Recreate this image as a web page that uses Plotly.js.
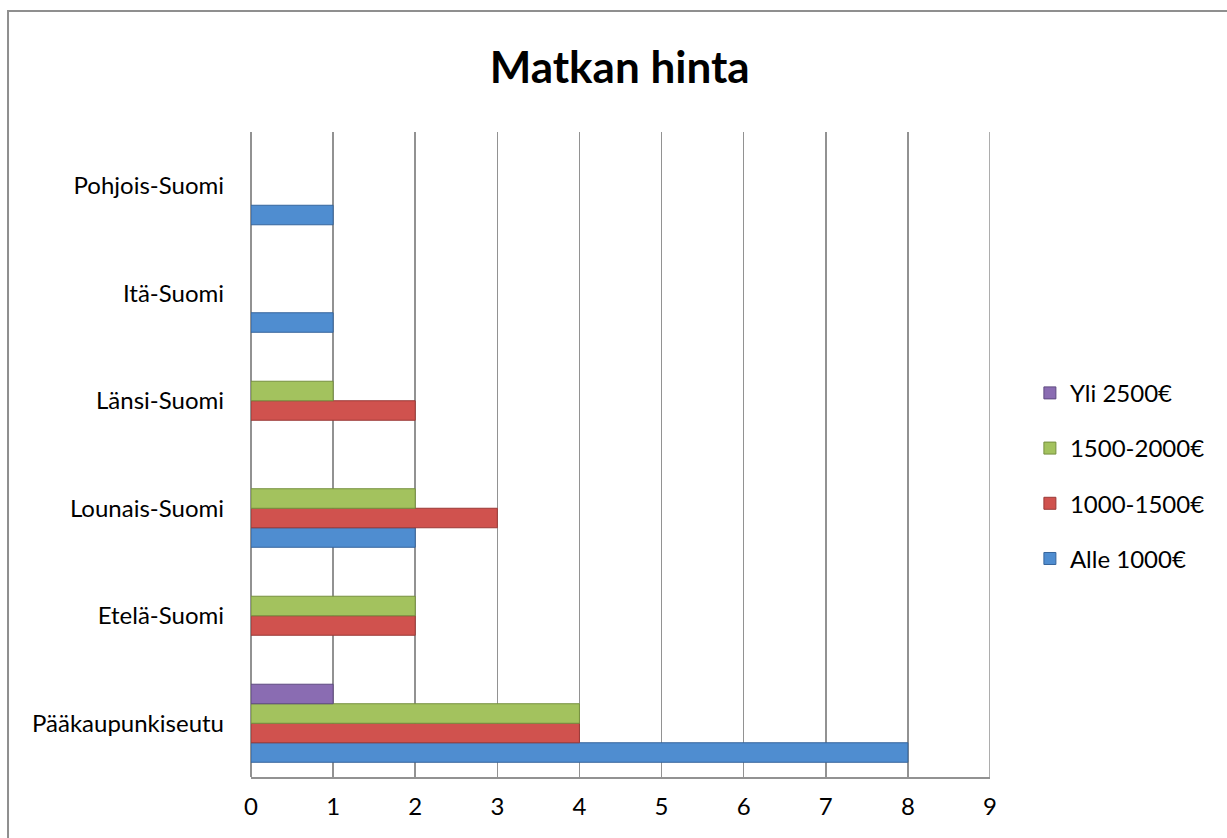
<!DOCTYPE html>
<html>
<head>
<meta charset="utf-8">
<script src="https://cdn.plot.ly/plotly-3.0.1.min.js"></script>
<style>
  html, body { margin: 0; padding: 0; background: #ffffff; }
  #chart { width: 1227px; height: 838px; }
</style>
</head>
<body>
<div id="chart"></div>
<script>
// Categories (bottom to top)
const categories = ['Pääkaupunkiseutu', 'Etelä-Suomi', 'Lounais-Suomi', 'Länsi-Suomi', 'Itä-Suomi', 'Pohjois-Suomi'];

// Series values
const alle1000   = [8, 0, 2, 0, 1, 1];
const v1000_1500 = [4, 2, 3, 2, 0, 0];
const v1500_2000 = [4, 2, 2, 1, 0, 0];
const yli2500    = [1, 0, 0, 0, 0, 0];

const seriesNames = ['Alle 1000€', '1000-1500€', '1500-2000€', 'Yli 2500€'];
const xTicks = [0, 1, 2, 3, 4, 5, 6, 7, 8, 9];

const fillColors = ['#4f8dd0', '#d0524e', '#a3c25e', '#8a6cb2'];
const edgeColors = ['#36659c', '#9a3a37', '#76903f', '#5f4a80'];

const seriesValues = [alle1000, v1000_1500, v1500_2000, yli2500];

const traces = seriesValues.map((vals, i) => ({
  type: 'bar',
  orientation: 'h',
  name: seriesNames[i],
  y: categories,
  x: vals,
  legendgroup: 'g' + i,
  legendrank: 1000 - i,
  marker: {
    color: fillColors[i],
    line: { color: edgeColors[i], width: vals.map(v => (v > 0 ? 1 : 0)) }
  },
  hoverinfo: 'x+name'
}));

const FONT = 'Lato, "Open Sans", "DejaVu Sans", sans-serif';
const xMax = xTicks[xTicks.length - 1];

const layout = {
  width: 1227,
  height: 838,
  margin: { l: 251, r: 237, t: 132, b: 61, pad: 0 },
  paper_bgcolor: '#ffffff',
  plot_bgcolor: '#ffffff',
  barmode: 'group',
  bargap: 0.274,
  bargroupgap: 0,
  font: { family: FONT, size: 24, color: '#000000' },
  title: {
    text: 'Matkan hinta',
    font: { family: FONT, size: 44, color: '#000000', weight: 'bold' },
    x: 0.505, xref: 'container', xanchor: 'center',
    y: 0.919, yref: 'container', yanchor: 'middle'
  },
  xaxis: {
    range: [0, xMax],
    tickvals: xTicks,
    ticktext: xTicks.map(String),
    showgrid: true,
    gridcolor: '#929292',
    gridwidth: 1.5,
    zeroline: true,
    zerolinecolor: '#929292',
    zerolinewidth: 1.5,
    showline: true,
    linecolor: '#929292',
    linewidth: 1.5,
    ticks: '',
    ticklabelstandoff: 8,
    tickfont: { family: FONT, size: 24, color: '#000000' },
    fixedrange: true
  },
  yaxis: {
    type: 'category',
    categoryorder: 'array',
    categoryarray: categories,
    showgrid: false,
    zeroline: false,
    showline: false,
    ticks: '',
    ticklabelstandoff: 26,
    tickfont: { family: FONT, size: 24, color: '#000000' },
    fixedrange: true
  },
  legend: {
    x: 1.054, xanchor: 'left',
    y: 0.467, yanchor: 'middle',
    traceorder: 'grouped',
    tracegroupgap: 21,
    font: { family: FONT, size: 24, color: '#000000' },
    bgcolor: 'rgba(0,0,0,0)',
    itemclick: false, itemdoubleclick: false
  },
  shapes: [
    {
      type: 'line', xref: 'x', yref: 'paper',
      x0: xMax, x1: xMax, y0: 0, y1: 1,
      line: { color: '#929292', width: 1.5 }, layer: 'below'
    },
    {
      type: 'rect', xref: 'paper', yref: 'paper',
      x0: -0.3288, x1: 1.4, y0: -0.2, y1: 1.1876,
      line: { color: '#8f8f8f', width: 2 },
      fillcolor: 'rgba(0,0,0,0)', layer: 'below'
    }
  ],
  showlegend: true
};

Plotly.newPlot('chart', traces, layout, { displayModeBar: false, staticPlot: true });
</script>
</body>
</html>
